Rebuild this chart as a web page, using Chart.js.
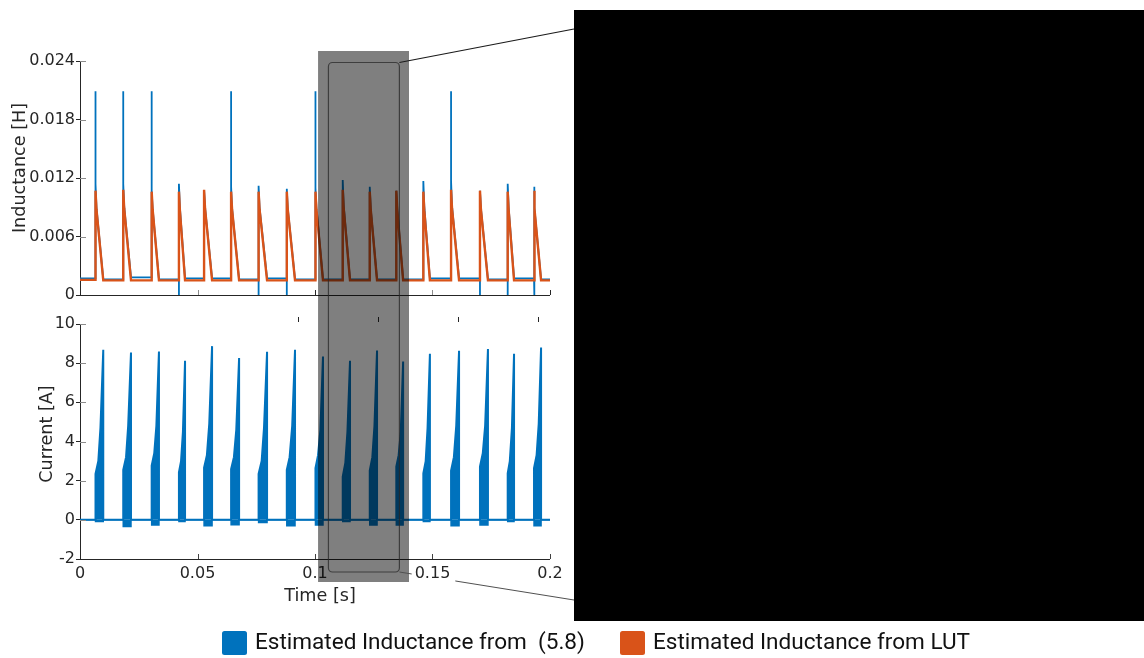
<!DOCTYPE html>
<html>
<head>
<meta charset="utf-8">
<script src="https://cdn.jsdelivr.net/npm/chart.js@4.4.1/dist/chart.umd.min.js"></script>
<style>
  html, body { margin: 0; padding: 0; background: #ffffff; }
  #wrap { position: relative; width: 1144px; height: 658px; overflow: hidden; }
  #wrap canvas { position: absolute; left: 0; top: 0; }
</style>
</head>
<body>
<div id="wrap">
  <canvas id="indCanvas" width="1144" height="658"></canvas>
  <canvas id="curCanvas" width="1144" height="658"></canvas>
</div>
<script>
// ---- axis ticks ----
const timeTicks = [0, 0.05, 0.1, 0.15, 0.2];
const inductanceTicks = [0, 0.006, 0.012, 0.018, 0.024];
const currentTicks = [-2, 0, 2, 4, 6, 8, 10];

// ---- switching events (s) ----
const pulseOn  = [0.0066, 0.0184, 0.0305, 0.0421, 0.0528, 0.0643, 0.0760, 0.0880, 0.1002,
                  0.1118, 0.1233, 0.1346, 0.1461, 0.1579, 0.1702, 0.1820, 0.1932];
const pulseOff = [0.0099, 0.0217, 0.0336, 0.0447, 0.0562, 0.0677, 0.0796, 0.0915, 0.1034,
                  0.1149, 0.1264, 0.1375, 0.1489, 0.1613, 0.1736, 0.1847, 0.1962];

// ---- inductance from LUT (H) ----
const lutBase     = [0.00155, 0.0015, 0.0015, 0.0015, 0.0015, 0.0015, 0.0015, 0.0015, 0.0015,
                     0.0015, 0.0015, 0.0015, 0.0015, 0.0015, 0.0015, 0.0015, 0.0015, 0.0015];
const lutPeak     = [0.0107, 0.0108, 0.0106, 0.0106, 0.0108, 0.0106, 0.0106, 0.0106, 0.0106,
                     0.0108, 0.0106, 0.0107, 0.0106, 0.0108, 0.0107, 0.0106, 0.0107];
const lutShoulderT = [0.0070, 0.0188, 0.0309, 0.0425, 0.0532, 0.0647, 0.0764, 0.0884, 0.1006,
                      0.1122, 0.1237, 0.1350, 0.1465, 0.1583, 0.1706, 0.1824, 0.1936];
const lutShoulder = [0.0088, 0.0089, 0.0088, 0.0087, 0.0089, 0.0088, 0.0088, 0.0088, 0.0088,
                     0.0089, 0.0088, 0.0087, 0.0087, 0.0089, 0.0088, 0.0087, 0.0088];

// ---- inductance from (5.8) (H) ----
const estBase  = [0.0017, 0.0016, 0.0018, 0.0016, 0.0017, 0.0017, 0.0016, 0.0017, 0.0016,
                  0.0016, 0.0016, 0.0016, 0.0016, 0.0017, 0.0017, 0.0016, 0.0017, 0.0016];
const estPeak  = [0.0114, 0.0114, 0.0107, 0.0114, 0.0107, 0.0111, 0.0112, 0.0109, 0.0110,
                  0.0118, 0.0111, 0.0107, 0.0117, 0.0117, 0.0107, 0.0114, 0.0111];
const estSpike = [0.0209, 0.0209, 0.0209, 0, null, 0.0209, 0, 0, 0.0209,
                  null, null, null, null, 0.0209, 0, 0, 0];
const estShoulder = [0.0090, 0.0091, 0.0089, 0.0090, 0.0090, 0.0089, 0.0090, 0.0089, 0.0090,
                     0.0092, 0.0089, 0.0089, 0.0091, 0.0091, 0.0089, 0.0090, 0.0090];

// ---- phase current (A) ----
const currentStart = [2.35, 2.55, 2.77, 2.43, 2.67, 2.59, 2.35, 2.55, 2.64,
                      2.21, 2.52, 2.72, 2.38, 2.52, 2.72, 2.38, 2.64];
const kneeTimeA = [0.0078, 0.0196, 0.0316, 0.0430, 0.0540, 0.0655, 0.0773, 0.0892, 0.1013,
                   0.1129, 0.1244, 0.1356, 0.1471, 0.1591, 0.1714, 0.1829, 0.1943];
const kneeA     = [3.0, 3.2, 3.4, 3.0, 3.3, 3.2, 3.0, 3.2, 3.3,
                   2.9, 3.2, 3.3, 3.0, 3.2, 3.4, 3.0, 3.3];
const kneeTimeB = [0.0087, 0.0205, 0.0325, 0.0438, 0.0550, 0.0665, 0.0783, 0.0903, 0.1023,
                   0.1138, 0.1253, 0.1365, 0.1479, 0.1601, 0.1724, 0.1838, 0.1952];
const kneeB     = [4.7, 4.8, 4.8, 4.5, 4.9, 4.6, 4.7, 4.8, 4.6,
                   4.5, 4.8, 4.5, 4.7, 4.8, 4.8, 4.7, 4.9];
const currentPeak = [8.68, 8.54, 8.60, 8.12, 8.87, 8.26, 8.58, 8.68, 8.34,
                     8.12, 8.65, 8.08, 8.48, 8.63, 8.72, 8.48, 8.80];
const currentDip  = [-0.09, -0.34, -0.27, -0.09, -0.30, -0.25, -0.14, -0.30, -0.26,
                     -0.09, -0.26, -0.26, -0.09, -0.30, -0.26, -0.09, -0.30];

// ---- annotation ranges (s) ----
const markerTicks = [0.0926, 0.1267, 0.1609, 0.1949];
const zoomShade = [0.1013, 0.1400];
const zoomFrame = [0.1055, 0.1357];

const BLUE = '#0072BD';
const ORANGE = '#D95319';
const AXIS = '#262626';
const INNER_TICK = '#8c8c8c';

// ---- series construction ----
function buildLut() {
  const pts = [{ x: 0, y: lutBase[0] }];
  pulseOn.forEach((t, i) => {
    pts.push({ x: t, y: lutBase[i] });
    pts.push({ x: t, y: lutPeak[i] });
    pts.push({ x: lutShoulderT[i], y: lutShoulder[i] });
    pts.push({ x: pulseOff[i], y: lutBase[i + 1] });
  });
  pts.push({ x: 0.2, y: lutBase[lutBase.length - 1] });
  return pts;
}

function buildEst() {
  const pts = [{ x: 0, y: estBase[0] }];
  pulseOn.forEach((t, i) => {
    pts.push({ x: t, y: estBase[i] });
    if (estSpike[i] !== null) pts.push({ x: t, y: estSpike[i] });
    pts.push({ x: t, y: estPeak[i] });
    pts.push({ x: lutShoulderT[i], y: estShoulder[i] });
    pts.push({ x: pulseOff[i], y: estBase[i + 1] });
  });
  pts.push({ x: 0.2, y: estBase[estBase.length - 1] });
  return pts;
}

function buildCurrent() {
  const pts = [{ x: 0, y: 0 }];
  pulseOn.forEach((t, i) => {
    pts.push({ x: t, y: 0 });
    pts.push({ x: t, y: currentStart[i] });
    pts.push({ x: kneeTimeA[i], y: kneeA[i] });
    pts.push({ x: kneeTimeB[i], y: kneeB[i] });
    pts.push({ x: pulseOff[i], y: currentPeak[i] });
    pts.push({ x: pulseOff[i], y: 0 });
  });
  pts.push({ x: 0.2, y: 0 });
  return pts;
}

function buildDip() {
  const pts = [{ x: 0, y: 0 }];
  pulseOn.forEach((t, i) => {
    pts.push({ x: t, y: 0 });
    pts.push({ x: t, y: currentDip[i] });
    pts.push({ x: pulseOff[i], y: currentDip[i] });
    pts.push({ x: pulseOff[i], y: 0 });
  });
  pts.push({ x: 0.2, y: 0 });
  return pts;
}

Chart.defaults.font.family = "'DejaVu Sans', sans-serif";
Chart.defaults.font.size = 16;
Chart.defaults.color = AXIS;

const W = 1144, H = 658;
const PLOT_LEFT = 80, PLOT_RIGHT = 550;

function fixedTicks(list) {
  return (scale) => { scale.ticks = list.map(v => ({ value: v })); };
}

function yAxis(min, max, list) {
  return {
    type: 'linear', min, max,
    afterBuildTicks: fixedTicks(list),
    afterFit: (s) => { s.width = PLOT_LEFT; },
    grid: { display: true, drawOnChartArea: false, drawTicks: true, tickLength: 4, color: AXIS, lineWidth: 1 },
    border: { display: true, color: AXIS, width: 1 },
    ticks: { padding: 1, callback: (v) => String(v), color: AXIS }
  };
}

// short marks drawn inside the plot area
function innerTicks(ctx, chart, xColors, yScale, yList) {
  const a = chart.chartArea, xs = chart.scales.x;
  ctx.save();
  ctx.lineWidth = 1;
  timeTicks.forEach((v, i) => {
    if (v === 0) return;
    const px = Math.round(xs.getPixelForValue(v)) + 0.5;
    ctx.strokeStyle = xColors[i];
    ctx.beginPath(); ctx.moveTo(px, a.bottom); ctx.lineTo(px, a.bottom - 5); ctx.stroke();
  });
  ctx.strokeStyle = INNER_TICK;
  yList.forEach((v) => {
    const py = Math.round(yScale.getPixelForValue(v)) + 0.5;
    ctx.beginPath(); ctx.moveTo(a.left, py); ctx.lineTo(a.left + 6, py); ctx.stroke();
  });
  // bottom axis line
  ctx.strokeStyle = AXIS;
  ctx.beginPath();
  ctx.moveTo(a.left, Math.round(a.bottom) + 0.5);
  ctx.lineTo(a.right, Math.round(a.bottom) + 0.5);
  ctx.stroke();
  ctx.restore();
}

function rotatedLabel(ctx, text, cx, cy) {
  ctx.save();
  ctx.translate(cx, cy);
  ctx.rotate(-Math.PI / 2);
  ctx.font = "17.6px 'DejaVu Sans', sans-serif";
  ctx.fillStyle = AXIS;
  ctx.textAlign = 'center';
  ctx.textBaseline = 'middle';
  ctx.fillText(text, 0, 0);
  ctx.restore();
}

const inductancePlugin = {
  id: 'inductanceFrame',
  afterDraw(chart) {
    const ctx = chart.ctx;
    innerTicks(ctx, chart, ['#262626', '#8c8c8c', '#262626', '#8c8c8c', '#262626'],
               chart.scales.y, inductanceTicks);
    rotatedLabel(ctx, 'Inductance [H]', 20, 168);
  }
};

const indChart = new Chart(document.getElementById('indCanvas'), {
  type: 'line',
  data: {
    datasets: [
      { label: 'Estimated Inductance from  (5.8)', data: buildEst(), borderColor: BLUE,
        backgroundColor: BLUE, borderWidth: 1.8, order: 2 },
      { label: 'Estimated Inductance from LUT', data: buildLut(), borderColor: ORANGE,
        backgroundColor: ORANGE, borderWidth: 2.4, order: 1 }
    ]
  },
  options: {
    responsive: false, animation: false, events: [],
    parsing: true,
    elements: { point: { radius: 0 }, line: { tension: 0, borderJoinStyle: 'miter' } },
    layout: { padding: { left: 0, top: 61, right: W - PLOT_RIGHT, bottom: H - 295 } },
    plugins: { legend: { display: false }, tooltip: { enabled: false } },
    scales: {
      x: { type: 'linear', min: 0, max: 0.2, display: false },
      y: yAxis(0, 0.024, inductanceTicks)
    }
  },
  plugins: [inductancePlugin]
});

function roundRectPath(ctx, x, y, w, h, r) {
  ctx.beginPath();
  ctx.moveTo(x + r, y);
  ctx.lineTo(x + w - r, y);
  ctx.arcTo(x + w, y, x + w, y + r, r);
  ctx.lineTo(x + w, y + h - r);
  ctx.arcTo(x + w, y + h, x + w - r, y + h, r);
  ctx.lineTo(x + r, y + h);
  ctx.arcTo(x, y + h, x, y + h - r, r);
  ctx.lineTo(x, y + r);
  ctx.arcTo(x, y, x + r, y, r);
  ctx.closePath();
}

const currentPlugin = {
  id: 'currentFrame',
  afterDraw(chart) {
    const ctx = chart.ctx;
    const a = chart.chartArea, xs = chart.scales.x;
    const top = indChart.chartArea;
    innerTicks(ctx, chart, ['#404040', '#404040', '#404040', '#404040', '#404040'],
               chart.scales.y, currentTicks);

    // stray marks above the current axes
    ctx.save();
    ctx.strokeStyle = AXIS; ctx.lineWidth = 1;
    markerTicks.forEach((v) => {
      const px = Math.round(xs.getPixelForValue(v)) + 0.5;
      ctx.beginPath(); ctx.moveTo(px, a.top - 7); ctx.lineTo(px, a.top - 2); ctx.stroke();
    });
    ctx.restore();

    // axis titles
    rotatedLabel(ctx, 'Current [A]', 47, 434);
    ctx.save();
    ctx.font = "17.6px 'DejaVu Sans', sans-serif";
    ctx.fillStyle = AXIS; ctx.textAlign = 'center'; ctx.textBaseline = 'middle';
    ctx.fillText('Time [s]', 320, 596);
    ctx.restore();

    // shaded time window
    const sx0 = xs.getPixelForValue(zoomShade[0]), sx1 = xs.getPixelForValue(zoomShade[1]);
    const shadeTop = top.top - 10, shadeBottom = a.bottom + 23;
    ctx.save();
    ctx.fillStyle = 'rgba(0,0,0,0.5)';
    ctx.fillRect(sx0, shadeTop, sx1 - sx0, shadeBottom - shadeTop);
    const fx0 = xs.getPixelForValue(zoomFrame[0]), fx1 = xs.getPixelForValue(zoomFrame[1]);
    const fTop = top.top + 1.5, fBottom = a.bottom + 13;
    ctx.strokeStyle = 'rgba(40,40,40,0.75)'; ctx.lineWidth = 1.2;
    roundRectPath(ctx, fx0 + 0.5, fTop, fx1 - fx0, fBottom - fTop, 4);
    ctx.stroke();
    ctx.restore();

    // detail panel
    const panel = { x: 574, y: 10, w: W - 574, h: 611 };
    ctx.save();
    ctx.fillStyle = '#000000';
    ctx.fillRect(panel.x, panel.y, panel.w, panel.h);

    // connector lines
    ctx.strokeStyle = '#1a1a1a'; ctx.lineWidth = 1.2;
    ctx.beginPath(); ctx.moveTo(fx1 + 0.5, fTop); ctx.lineTo(panel.x, 29); ctx.stroke();

    ctx.font = "16px 'DejaVu Sans', sans-serif";
    const lx = xs.getPixelForValue(0.15), lw = ctx.measureText('0.15').width;
    ctx.beginPath();
    ctx.rect(0, 0, W, H);
    ctx.rect(lx - lw / 2 - 3, a.bottom + 3, lw + 8, 20);
    ctx.clip('evenodd');
    ctx.strokeStyle = '#505050'; ctx.lineWidth = 1;
    ctx.beginPath(); ctx.moveTo(fx1 + 0.5, fBottom); ctx.lineTo(panel.x, 600); ctx.stroke();
    ctx.restore();

    // legend
    const items = indChart.data.datasets;
    const legendX = [222, 620];
    ctx.save();
    ctx.font = "24px Roboto, sans-serif";
    const target = 330;
    const mw = ctx.measureText(items[0].label).width;
    const size = 24 * target / mw;
    ctx.font = size.toFixed(2) + "px Roboto, sans-serif";
    ctx.textBaseline = 'middle';
    items.forEach((d, i) => {
      ctx.fillStyle = d.borderColor;
      roundRectPath(ctx, legendX[i], 631, 25, 24, 2.5);
      ctx.fill();
      ctx.fillStyle = '#111111';
      ctx.fillText(d.label, legendX[i] + 33, 643.5);
    });
    ctx.restore();
  }
};

new Chart(document.getElementById('curCanvas'), {
  type: 'line',
  data: {
    datasets: [
      { label: 'Current', data: buildCurrent(), borderColor: BLUE, backgroundColor: BLUE,
        borderWidth: 2, fill: 'origin' },
      { label: 'Current dip', data: buildDip(), borderColor: BLUE, backgroundColor: BLUE,
        borderWidth: 1.5, fill: 'origin' }
    ]
  },
  options: {
    responsive: false, animation: false, events: [],
    elements: { point: { radius: 0 }, line: { tension: 0, borderJoinStyle: 'miter' } },
    layout: { padding: { left: 0, top: 324, right: W - PLOT_RIGHT, bottom: H - 559 - 30 } },
    plugins: { legend: { display: false }, tooltip: { enabled: false } },
    scales: {
      x: {
        type: 'linear', min: 0, max: 0.2,
        afterBuildTicks: fixedTicks(timeTicks),
        afterFit: (s) => { s.height = 30; },
        grid: { display: false, drawTicks: false },
        border: { display: false },
        ticks: { padding: 5, maxRotation: 0, callback: (v) => String(v), color: AXIS }
      },
      y: yAxis(-2, 10, currentTicks)
    }
  },
  plugins: [currentPlugin]
});
</script>
</body>
</html>
